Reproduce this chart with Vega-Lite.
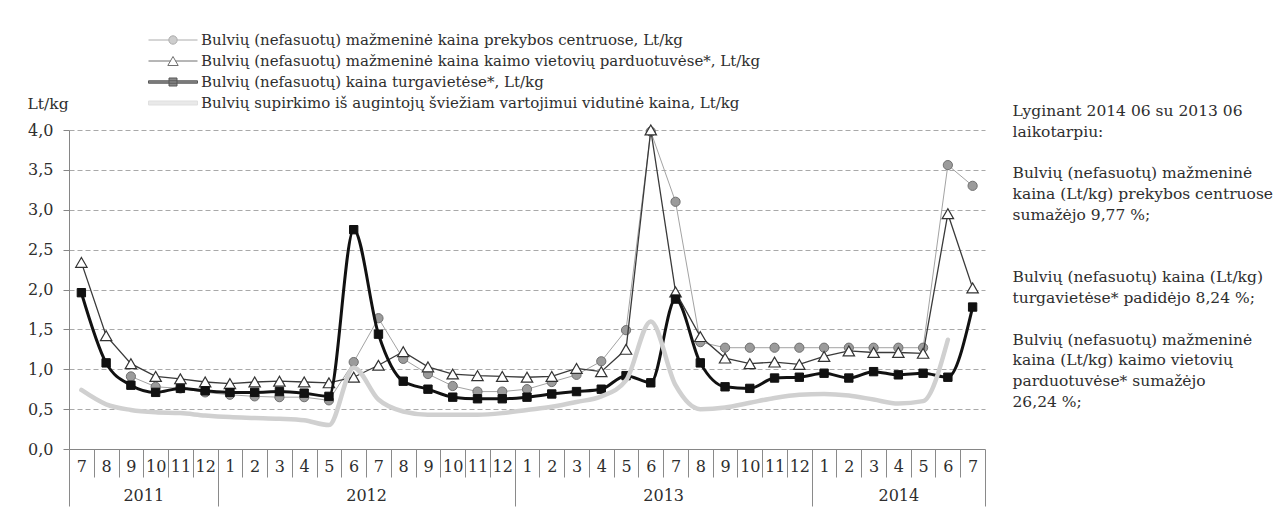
{
  "$schema": "https://vega.github.io/schema/vega-lite/v6.json",
  "width": 916,
  "height": 319,
  "autosize": {"type": "none"},
  "padding": {"left": 69, "top": 130, "right": 303, "bottom": 66},
  "background": "white",
  "config": {
    "view": {"stroke": null},
    "font": "DejaVu Serif",
    "axis": {"labelFont": "DejaVu Serif", "labelColor": "#2e2e2e", "titleFont": "DejaVu Serif", "titleColor": "#2e2e2e", "titleFontWeight": "normal"}
  },
  "datasets": {
    "prices": [
      {"m": 2, "s": "c", "v": 0.91}, {"m": 3, "s": "c", "v": 0.78}, {"m": 4, "s": "c", "v": 0.76}, {"m": 5, "s": "c", "v": 0.71},
      {"m": 6, "s": "c", "v": 0.68}, {"m": 7, "s": "c", "v": 0.66}, {"m": 8, "s": "c", "v": 0.65}, {"m": 9, "s": "c", "v": 0.65},
      {"m": 10, "s": "c", "v": 0.61}, {"m": 11, "s": "c", "v": 1.09}, {"m": 12, "s": "c", "v": 1.64}, {"m": 13, "s": "c", "v": 1.13},
      {"m": 14, "s": "c", "v": 0.94}, {"m": 15, "s": "c", "v": 0.79}, {"m": 16, "s": "c", "v": 0.72}, {"m": 17, "s": "c", "v": 0.72},
      {"m": 18, "s": "c", "v": 0.75}, {"m": 19, "s": "c", "v": 0.84}, {"m": 20, "s": "c", "v": 0.93}, {"m": 21, "s": "c", "v": 1.10},
      {"m": 22, "s": "c", "v": 1.49}, {"m": 23, "s": "c", "v": 3.98}, {"m": 24, "s": "c", "v": 3.10}, {"m": 25, "s": "c", "v": 1.34},
      {"m": 26, "s": "c", "v": 1.27}, {"m": 27, "s": "c", "v": 1.27}, {"m": 28, "s": "c", "v": 1.27}, {"m": 29, "s": "c", "v": 1.27},
      {"m": 30, "s": "c", "v": 1.27}, {"m": 31, "s": "c", "v": 1.27}, {"m": 32, "s": "c", "v": 1.27}, {"m": 33, "s": "c", "v": 1.27},
      {"m": 34, "s": "c", "v": 1.27}, {"m": 35, "s": "c", "v": 3.56}, {"m": 36, "s": "c", "v": 3.30},

      {"m": 0, "s": "t", "v": 2.34}, {"m": 1, "s": "t", "v": 1.42}, {"m": 2, "s": "t", "v": 1.07}, {"m": 3, "s": "t", "v": 0.91},
      {"m": 4, "s": "t", "v": 0.88}, {"m": 5, "s": "t", "v": 0.84}, {"m": 6, "s": "t", "v": 0.82}, {"m": 7, "s": "t", "v": 0.84},
      {"m": 8, "s": "t", "v": 0.85}, {"m": 9, "s": "t", "v": 0.84}, {"m": 10, "s": "t", "v": 0.83}, {"m": 11, "s": "t", "v": 0.90},
      {"m": 12, "s": "t", "v": 1.05}, {"m": 13, "s": "t", "v": 1.22}, {"m": 14, "s": "t", "v": 1.03}, {"m": 15, "s": "t", "v": 0.94},
      {"m": 16, "s": "t", "v": 0.92}, {"m": 17, "s": "t", "v": 0.91}, {"m": 18, "s": "t", "v": 0.90}, {"m": 19, "s": "t", "v": 0.91},
      {"m": 20, "s": "t", "v": 1.01}, {"m": 21, "s": "t", "v": 0.97}, {"m": 22, "s": "t", "v": 1.25}, {"m": 23, "s": "t", "v": 4.00},
      {"m": 24, "s": "t", "v": 1.97}, {"m": 25, "s": "t", "v": 1.41}, {"m": 26, "s": "t", "v": 1.14}, {"m": 27, "s": "t", "v": 1.07},
      {"m": 28, "s": "t", "v": 1.09}, {"m": 29, "s": "t", "v": 1.06}, {"m": 30, "s": "t", "v": 1.16}, {"m": 31, "s": "t", "v": 1.23},
      {"m": 32, "s": "t", "v": 1.21}, {"m": 33, "s": "t", "v": 1.21}, {"m": 34, "s": "t", "v": 1.20}, {"m": 35, "s": "t", "v": 2.95},
      {"m": 36, "s": "t", "v": 2.02},

      {"m": 0, "s": "q", "v": 1.96}, {"m": 1, "s": "q", "v": 1.08}, {"m": 2, "s": "q", "v": 0.80}, {"m": 3, "s": "q", "v": 0.71},
      {"m": 4, "s": "q", "v": 0.76}, {"m": 5, "s": "q", "v": 0.73}, {"m": 6, "s": "q", "v": 0.71}, {"m": 7, "s": "q", "v": 0.71},
      {"m": 8, "s": "q", "v": 0.72}, {"m": 9, "s": "q", "v": 0.70}, {"m": 10, "s": "q", "v": 0.66}, {"m": 11, "s": "q", "v": 2.75},
      {"m": 12, "s": "q", "v": 1.44}, {"m": 13, "s": "q", "v": 0.85}, {"m": 14, "s": "q", "v": 0.75}, {"m": 15, "s": "q", "v": 0.65},
      {"m": 16, "s": "q", "v": 0.63}, {"m": 17, "s": "q", "v": 0.63}, {"m": 18, "s": "q", "v": 0.65}, {"m": 19, "s": "q", "v": 0.69},
      {"m": 20, "s": "q", "v": 0.72}, {"m": 21, "s": "q", "v": 0.75}, {"m": 22, "s": "q", "v": 0.92}, {"m": 23, "s": "q", "v": 0.83},
      {"m": 24, "s": "q", "v": 1.88}, {"m": 25, "s": "q", "v": 1.08}, {"m": 26, "s": "q", "v": 0.78}, {"m": 27, "s": "q", "v": 0.76},
      {"m": 28, "s": "q", "v": 0.89}, {"m": 29, "s": "q", "v": 0.90}, {"m": 30, "s": "q", "v": 0.95}, {"m": 31, "s": "q", "v": 0.89},
      {"m": 32, "s": "q", "v": 0.97}, {"m": 33, "s": "q", "v": 0.93}, {"m": 34, "s": "q", "v": 0.95}, {"m": 35, "s": "q", "v": 0.90},
      {"m": 36, "s": "q", "v": 1.78},

      {"m": 0, "s": "g", "v": 0.74}, {"m": 1, "s": "g", "v": 0.56}, {"m": 2, "s": "g", "v": 0.49}, {"m": 3, "s": "g", "v": 0.46},
      {"m": 4, "s": "g", "v": 0.45}, {"m": 5, "s": "g", "v": 0.42}, {"m": 6, "s": "g", "v": 0.40}, {"m": 7, "s": "g", "v": 0.39},
      {"m": 8, "s": "g", "v": 0.38}, {"m": 9, "s": "g", "v": 0.36}, {"m": 10, "s": "g", "v": 0.30}, {"m": 11, "s": "g", "v": 1.02},
      {"m": 12, "s": "g", "v": 0.62}, {"m": 13, "s": "g", "v": 0.47}, {"m": 14, "s": "g", "v": 0.43}, {"m": 15, "s": "g", "v": 0.43},
      {"m": 16, "s": "g", "v": 0.43}, {"m": 17, "s": "g", "v": 0.45}, {"m": 18, "s": "g", "v": 0.49}, {"m": 19, "s": "g", "v": 0.53},
      {"m": 20, "s": "g", "v": 0.59}, {"m": 21, "s": "g", "v": 0.66}, {"m": 22, "s": "g", "v": 0.86}, {"m": 23, "s": "g", "v": 1.60},
      {"m": 24, "s": "g", "v": 0.80}, {"m": 25, "s": "g", "v": 0.50}, {"m": 26, "s": "g", "v": 0.52}, {"m": 27, "s": "g", "v": 0.58},
      {"m": 28, "s": "g", "v": 0.64}, {"m": 29, "s": "g", "v": 0.68}, {"m": 30, "s": "g", "v": 0.69}, {"m": 31, "s": "g", "v": 0.67},
      {"m": 32, "s": "g", "v": 0.62}, {"m": 33, "s": "g", "v": 0.57}, {"m": 34, "s": "g", "v": 0.60}, {"m": 35, "s": "g", "v": 1.37}
    ],
    "series": [
      {"name": "Bulvių (nefasuotų) mažmeninė kaina prekybos centruose, Lt/kg"},
      {"name": "Bulvių (nefasuotų) mažmeninė kaina kaimo vietovių parduotuvėse*, Lt/kg"},
      {"name": "Bulvių (nefasuotų) kaina turgavietėse*, Lt/kg"},
      {"name": "Bulvių supirkimo iš augintojų šviežiam vartojimui vidutinė kaina, Lt/kg"}
    ],
    "notes": [
      {"line": "Lyginant 2014 06 su 2013 06"},
      {"line": "laikotarpiu:"},
      {"line": "#1"},
      {"line": "Bulvių (nefasuotų) mažmeninė "},
      {"line": "kaina (Lt/kg) prekybos centruose"},
      {"line": "sumažėjo 9,77 %;"},
      {"line": "#2"},
      {"line": "#3"},
      {"line": "Bulvių (nefasuotų) kaina (Lt/kg)"},
      {"line": "turgavietėse* padidėjo 8,24 %;"},
      {"line": "#4"},
      {"line": "Bulvių (nefasuotų) mažmeninė"},
      {"line": "kaina (Lt/kg) kaimo vietovių"},
      {"line": "parduotuvėse* sumažėjo"},
      {"line": "26,24 %;"}
    ]
  },
  "layer": [
    {
      "data": {"name": "prices"},
      "encoding": {
        "x": {
          "field": "m", "type": "quantitative",
          "scale": {"domain": [-0.5, 36.5], "nice": false, "zero": false},
          "axis": {
            "orient": "bottom", "title": null,
            "values": [0,1,2,3,4,5,6,7,8,9,10,11,12,13,14,15,16,17,18,19,20,21,22,23,24,25,26,27,28,29,30,31,32,33,34,35,36],
            "labelExpr": "'' + (((datum.value + 6) % 12) + 1)",
            "ticks": false, "grid": false, "domain": true, "domainColor": "#868686", "domainWidth": 1,
            "labelFontSize": 16, "labelPadding": 9, "labelOverlap": false, "labelFlush": false
          }
        },
        "y": {
          "field": "v", "type": "quantitative",
          "scale": {"domain": [0, 4], "nice": false, "zero": true},
          "axis": {
            "values": [0, 0.5, 1, 1.5, 2, 2.5, 3, 3.5, 4],
            "labelExpr": "replace(format(datum.value, '.1f'), '.', ',')",
            "grid": true, "gridDash": [5, 3], "gridColor": "#a9a9a9",
            "gridOpacity": {"condition": {"test": "datum.value == 0", "value": 0}, "value": 1},
            "domainColor": "#868686", "tickColor": "#868686", "tickSize": 6,
            "labelFontSize": 16, "labelPadding": 10, "labelOverlap": false, "labelFlush": false,
            "title": "Lt/kg", "titleAngle": 0, "titleAlign": "left", "titleBaseline": "middle",
            "titleX": -42, "titleY": -27, "titleFontSize": 15.5
          }
        }
      },
      "layer": [
        {"transform": [{"filter": "datum.s == 'c'"}], "mark": {"type": "line", "color": "#a3a3a3", "strokeWidth": 1}},
        {"transform": [{"filter": "datum.s == 'c'"}], "mark": {"type": "point", "shape": "circle", "filled": true, "fill": "#9b9b9b", "stroke": "#707070", "strokeWidth": 1, "size": 85, "opacity": 1}},
        {"transform": [{"filter": "datum.s == 't'"}], "mark": {"type": "line", "color": "#3a3a3a", "strokeWidth": 1.3}},
        {"transform": [{"filter": "datum.s == 't'"}], "mark": {"type": "point", "shape": "triangle-up", "filled": true, "fill": "#ffffff", "stroke": "#333333", "strokeWidth": 1.2, "size": 130, "opacity": 1}},
        {"transform": [{"filter": "datum.s == 'q'"}], "mark": {"type": "line", "color": "#111111", "strokeWidth": 3, "interpolate": "monotone", "strokeJoin": "round"}},
        {"transform": [{"filter": "datum.s == 'q'"}], "mark": {"type": "point", "shape": "square", "filled": true, "fill": "#111111", "stroke": "#111111", "strokeWidth": 1, "size": 70, "opacity": 1}},
        {"transform": [{"filter": "datum.s == 'g'"}], "mark": {"type": "line", "color": "#d0d0d0", "strokeWidth": 4.5, "interpolate": "monotone", "strokeCap": "round"}}
      ]
    },
    {
      "data": {"name": "prices"},
      "transform": [{"filter": "false"}],
      "mark": "point",
      "encoding": {
        "x": {
          "field": "m", "type": "quantitative",
          "scale": {"domain": [-0.5, 36.5], "nice": false, "zero": false},
          "axis": {
            "orient": "bottom", "title": null,
            "values": [-0.5,0.5,1.5,2.5,3.5,4.5,5.5,6.5,7.5,8.5,9.5,10.5,11.5,12.5,13.5,14.5,15.5,16.5,17.5,18.5,19.5,20.5,21.5,22.5,23.5,24.5,25.5,26.5,27.5,28.5,29.5,30.5,31.5,32.5,33.5,34.5,35.5,36.5],
            "labels": false, "domain": false, "grid": false, "ticks": true,
            "tickColor": "#8a8a8a", "tickWidth": 1,
            "tickSize": {"condition": {"test": "datum.value == -0.5 || datum.value == 5.5 || datum.value == 17.5 || datum.value == 29.5 || datum.value == 36.5", "value": 57}, "value": 28}
          }
        }
      }
    },
    {
      "data": {"name": "prices"},
      "transform": [{"filter": "false"}],
      "mark": "point",
      "encoding": {
        "x": {
          "field": "m", "type": "quantitative",
          "scale": {"domain": [-0.5, 36.5], "nice": false, "zero": false},
          "axis": {
            "orient": "bottom", "title": null,
            "values": [2.5, 11.5, 23.5, 33],
            "labelExpr": "datum.value < 5.5 ? '2011' : datum.value < 17.5 ? '2012' : datum.value < 29.5 ? '2013' : '2014'",
            "ticks": false, "domain": false, "grid": false,
            "labelFontSize": 16, "labelPadding": 38, "labelOverlap": false, "labelFlush": false
          }
        }
      }
    },
    {
      "data": {"name": "series"},
      "transform": [{"filter": "false"}],
      "mark": "point",
      "encoding": {
        "fill": {
          "field": "name", "type": "nominal",
          "scale": {
            "domain": ["Bulvių (nefasuotų) mažmeninė kaina prekybos centruose, Lt/kg", "Bulvių (nefasuotų) mažmeninė kaina kaimo vietovių parduotuvėse*, Lt/kg", "Bulvių (nefasuotų) kaina turgavietėse*, Lt/kg", "Bulvių supirkimo iš augintojų šviežiam vartojimui vidutinė kaina, Lt/kg"],
            "range": ["#9b9b9b", "#ffffff", "#111111", "#d3d3d3"]
          },
          "legend": {
            "orient": "none", "legendX": 93.5, "legendY": -100.5, "direction": "vertical",
            "title": null, "symbolSize": 400, "symbolStrokeWidth": 1,
            "labelFont": "DejaVu Serif", "labelFontSize": 15, "labelColor": "#2e2e2e",
            "labelOffset": 17.5, "labelLimit": 1000, "rowPadding": 2, "padding": 0
          }
        },
        "stroke": {
          "field": "name", "type": "nominal",
          "scale": {
            "domain": ["Bulvių (nefasuotų) mažmeninė kaina prekybos centruose, Lt/kg", "Bulvių (nefasuotų) mažmeninė kaina kaimo vietovių parduotuvėse*, Lt/kg", "Bulvių (nefasuotų) kaina turgavietėse*, Lt/kg", "Bulvių supirkimo iš augintojų šviežiam vartojimui vidutinė kaina, Lt/kg"],
            "range": ["#8a8a8a", "#333333", "#111111", "#d3d3d3"]
          }
        },
        "shape": {
          "field": "name", "type": "nominal",
          "scale": {
            "domain": ["Bulvių (nefasuotų) mažmeninė kaina prekybos centruose, Lt/kg", "Bulvių (nefasuotų) mažmeninė kaina kaimo vietovių parduotuvėse*, Lt/kg", "Bulvių (nefasuotų) kaina turgavietėse*, Lt/kg", "Bulvių supirkimo iš augintojų šviežiam vartojimui vidutinė kaina, Lt/kg"],
            "range": [
              "M-2.45,0H-0.42M0.42,0H2.45M-0.42,0C-0.42,-0.232,-0.232,-0.42,0,-0.42C0.232,-0.42,0.42,-0.232,0.42,0C0.42,0.232,0.232,0.42,0,0.42C-0.232,0.42,-0.42,0.232,-0.42,0Z",
              "M-2.45,0H-0.25M0.25,0H2.45M0,-0.45L0.52,0.45H-0.52Z",
              "M-2.45,-0.12H2.45V0.12H-2.45ZM-0.4,-0.4H0.4V0.4H-0.4Z",
              "M-2.45,-0.2H2.45V0.2H-2.45Z"
            ]
          }
        }
      }
    },
    {
      "data": {"name": "notes"},
      "transform": [{"filter": "false"}],
      "mark": "line",
      "encoding": {
        "strokeDash": {
          "field": "line", "type": "nominal",
          "scale": {
            "domain": ["Lyginant 2014 06 su 2013 06", "laikotarpiu:", "#1", "Bulvių (nefasuotų) mažmeninė ", "kaina (Lt/kg) prekybos centruose", "sumažėjo 9,77 %;", "#2", "#3", "Bulvių (nefasuotų) kaina (Lt/kg)", "turgavietėse* padidėjo 8,24 %;", "#4", "Bulvių (nefasuotų) mažmeninė", "kaina (Lt/kg) kaimo vietovių", "parduotuvėse* sumažėjo", "26,24 %;"]
          },
          "legend": {
            "orient": "none", "legendX": 928, "legendY": -27, "direction": "vertical",
            "title": null, "symbolSize": 1, "symbolOpacity": 0, "symbolStrokeWidth": 0,
            "labelFont": "DejaVu Serif", "labelFontSize": 15.5, "labelColor": "#2e2e2e",
            "labelOffset": 0, "labelLimit": 1000, "rowPadding": 3.8, "padding": 0,
            "labelExpr": "indexof(datum.label, '#') == 0 ? '' : datum.label"
          }
        }
      }
    }
  ],
  "resolve": {"axis": {"x": "independent"}}
}
